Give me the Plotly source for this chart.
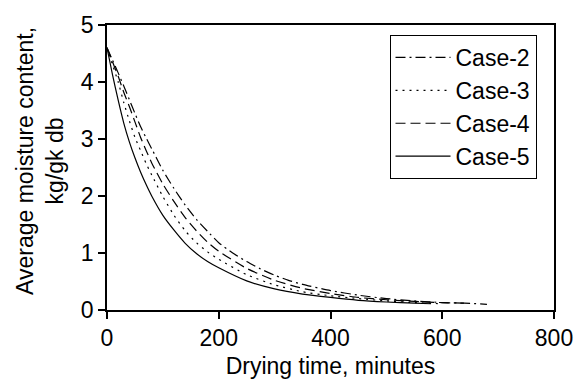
import plotly.graph_objects as go

# Drying time (minutes) and average moisture content (kg/kg db)
t_case2 = [0, 10, 20, 30, 40, 50, 60, 70, 80, 100, 120, 140, 160, 180, 200, 225, 250, 275, 300, 325, 350, 400, 450, 500, 550, 600, 640, 680]
m_case2 = [4.6, 4.38, 4.16, 3.93, 3.69, 3.45, 3.22, 3.02, 2.83, 2.45, 2.13, 1.84, 1.59, 1.38, 1.18, 1.00, 0.85, 0.72, 0.61, 0.52, 0.45, 0.34, 0.26, 0.20, 0.16, 0.13, 0.12, 0.10]

t_case3 = [0, 10, 20, 30, 40, 50, 60, 70, 80, 100, 120, 140, 160, 180, 200, 250, 300, 350, 400, 450, 500, 550, 600]
m_case3 = [4.6, 4.3, 4.0, 3.64, 3.32, 3.03, 2.80, 2.57, 2.37, 1.99, 1.66, 1.39, 1.18, 1.02, 0.89, 0.62, 0.44, 0.32, 0.25, 0.20, 0.16, 0.13, 0.11]

t_case4 = [0, 10, 20, 30, 40, 50, 60, 70, 80, 100, 120, 140, 160, 180, 200, 250, 300, 350, 400, 450, 500, 550, 600, 640]
m_case4 = [4.6, 4.35, 4.1, 3.82, 3.57, 3.30, 3.03, 2.80, 2.58, 2.21, 1.90, 1.62, 1.39, 1.19, 1.03, 0.73, 0.52, 0.38, 0.29, 0.22, 0.18, 0.15, 0.13, 0.12]

t_case5 = [0, 10, 20, 30, 40, 50, 60, 70, 80, 100, 120, 140, 160, 180, 200, 250, 300, 350, 400, 450, 500, 550, 580]
m_case5 = [4.6, 4.12, 3.68, 3.28, 2.95, 2.67, 2.42, 2.20, 2.00, 1.66, 1.40, 1.17, 0.99, 0.85, 0.74, 0.51, 0.37, 0.28, 0.22, 0.17, 0.14, 0.12, 0.11]

series = [
    ("Case-2", t_case2, m_case2, "10px,4px,2px,4px"),
    ("Case-3", t_case3, m_case3, "2px,5px"),
    ("Case-4", t_case4, m_case4, "10px,5px"),
    ("Case-5", t_case5, m_case5, "solid"),
]

x_ticks = [0, 200, 400, 600, 800]
y_ticks = [0, 1, 2, 3, 4, 5]

FONT = "Liberation Sans, Arial, sans-serif"
FS = 23

fig = go.Figure()
for name, t, m, dash in series:
    fig.add_trace(go.Scatter(
        x=t, y=m, mode="lines", name=name,
        line=dict(color="black", width=1.2, dash=dash, shape="spline", smoothing=0.6),
    ))

fig.update_layout(
    width=585, height=392,
    margin=dict(l=107, r=30, t=16, b=82),
    paper_bgcolor="white", plot_bgcolor="white",
    font=dict(family=FONT, size=FS, color="black"),
    showlegend=True,
    legend=dict(
        x=0.632, y=0.965, xanchor="left", yanchor="top",
        bordercolor="black", borderwidth=1, bgcolor="white",
        font=dict(size=FS), itemwidth=55, tracegroupgap=0,
    ),
    xaxis=dict(
        range=[0, 800], tickvals=x_ticks, ticks="outside", ticklen=7,
        tickcolor="black", tickwidth=1.5,
        showline=True, linecolor="black", linewidth=1.5, mirror=True,
        showgrid=False, zeroline=False,
        tickfont=dict(size=FS),
        title=dict(text="Drying time, minutes", font=dict(size=FS), standoff=8),
    ),
    yaxis=dict(
        range=[0, 5], tickvals=y_ticks, ticks="outside", ticklen=7,
        tickcolor="black", tickwidth=1.5,
        showline=True, linecolor="black", linewidth=1.5, mirror=True,
        showgrid=False, zeroline=False,
        tickfont=dict(size=FS),
    ),
    annotations=[dict(
        text="Average moisture content,<br>kg/gk db",
        xref="paper", yref="paper", x=0, y=0.523,
        xanchor="center", yanchor="middle", xshift=-67,
        textangle=-90, showarrow=False, font=dict(size=FS),
    )],
)

fig.write_html("out.html")
